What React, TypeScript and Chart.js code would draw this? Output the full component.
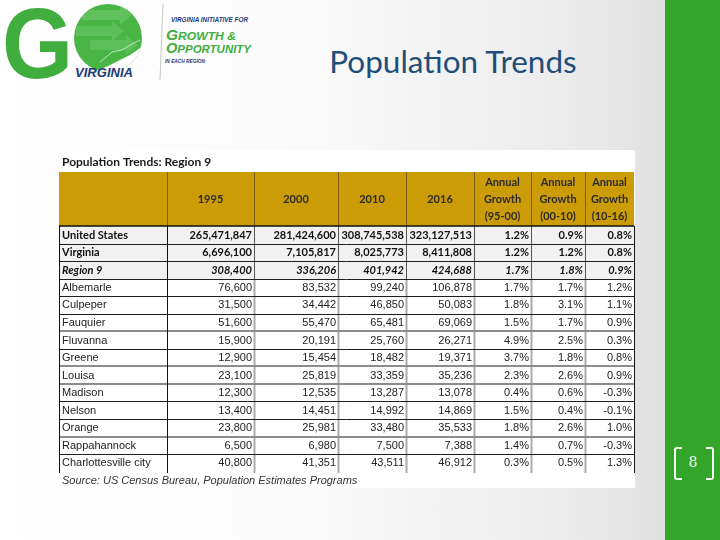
import React, { useEffect, useRef } from "react";
import { Chart, registerables } from "chart.js";

Chart.register(...registerables);

// ---------------- data ----------------
const slideTitle = "Population Trends";
const tableTitle = "Population Trends: Region 9";
const sourceNote = "Source: US Census Bureau, Population Estimates Programs";
const headerLabels: string[][] = [
  [""],
  ["1995"],
  ["2000"],
  ["2010"],
  ["2016"],
  ["Annual", "Growth", "(95-00)"],
  ["Annual", "Growth", "(00-10)"],
  ["Annual", "Growth", "(10-16)"],
];
const places = [
  "United States",
  "Virginia",
  "Region 9",
  "Albemarle",
  "Culpeper",
  "Fauquier",
  "Fluvanna",
  "Greene",
  "Louisa",
  "Madison",
  "Nelson",
  "Orange",
  "Rappahannock",
  "Charlottesville city",
];
const pop1995 = [265471847, 6696100, 308400, 76600, 31500, 51600, 15900, 12900, 23100, 12300, 13400, 23800, 6500, 40800];
const pop2000 = [281424600, 7105817, 336206, 83532, 34442, 55470, 20191, 15454, 25819, 12535, 14451, 25981, 6980, 41351];
const pop2010 = [308745538, 8025773, 401942, 99240, 46850, 65481, 25760, 18482, 33359, 13287, 14992, 33480, 7500, 43511];
const pop2016 = [323127513, 8411808, 424688, 106878, 50083, 69069, 26271, 19371, 35236, 13078, 14869, 35533, 7388, 46912];
const growth9500 = [1.2, 1.2, 1.7, 1.7, 1.8, 1.5, 4.9, 3.7, 2.3, 0.4, 1.5, 1.8, 1.4, 0.3];
const growth0010 = [0.9, 1.2, 1.8, 1.7, 3.1, 1.7, 2.5, 1.8, 2.6, 0.6, 0.4, 2.6, 0.7, 0.5];
const growth1016 = [0.8, 0.8, 0.9, 1.2, 1.1, 0.9, 0.3, 0.8, 0.9, -0.3, -0.1, 1.0, -0.3, 1.3];

// ---------------- layout / style ----------------
const COL_EDGES = [4, 112, 199, 283, 351, 419, 476, 530, 579];
const Y_MIN = -4.33;
const Y_MAX = 14.93;
const HEADER_TOP = -3.08;
const TITLE_Y = -3.62;
const SOURCE_Y = 14.55;
const GOLD = "#cc9c06";
// style of the line under each row (k = row index): "b" dark thin, "g" gray thick
const ROW_LINES = ["b", "b", "b", "b", "b", "g", "b", "g", "g", "b", "b", "g", "b"];

const fmtPop = (v: number) => v.toLocaleString("en-US");
const fmtPct = (v: number) => v.toFixed(1) + "%";

const numericCols: string[][] = [
  pop1995.map(fmtPop),
  pop2000.map(fmtPop),
  pop2010.map(fmtPop),
  pop2016.map(fmtPop),
  growth9500.map(fmtPct),
  growth0010.map(fmtPct),
  growth1016.map(fmtPct),
];
const cellText: string[][] = [places, ...numericCols];

function rowFont(i: number) {
  if (i === 2) return "italic bold 11px Lato";
  if (i < 2) return "bold 11px Lato";
  return "11px 'Liberation Sans'";
}

const tablePlugin = {
  id: "tableGrid",
  beforeDatasetsDraw(chart: any) {
    const { ctx } = chart;
    const xs = chart.scales.x;
    const ys = chart.scales.y;
    const X = (v: number) => Math.round(xs.getPixelForValue(v));
    const Y = (v: number) => Math.round(ys.getPixelForValue(v));
    const left = X(COL_EDGES[0]);
    const right = X(COL_EDGES[COL_EDGES.length - 1]);
    const n = places.length;
    ctx.save();
    ctx.fillStyle = "#ffffff";
    ctx.fillRect(0, 0, chart.width, chart.height);
    // header band
    ctx.fillStyle = GOLD;
    ctx.fillRect(left, Y(HEADER_TOP), right - left, Y(0) - Y(HEADER_TOP));
    // shaded top rows
    ctx.fillStyle = "#f1f1f1";
    ctx.fillRect(left, Y(0), right - left, Y(3) - Y(0));
    // header dividers
    ctx.strokeStyle = "#7a5f10";
    ctx.lineWidth = 1;
    for (let c = 1; c < COL_EDGES.length - 1; c++) {
      const x = X(COL_EDGES[c]) + 0.5;
      ctx.beginPath();
      ctx.moveTo(x, Y(HEADER_TOP));
      ctx.lineTo(x, Y(0));
      ctx.stroke();
    }
    // body vertical dividers between numeric columns
    for (let c = 2; c < COL_EDGES.length - 1; c++) {
      const x = X(COL_EDGES[c]) + 0.5;
      ctx.strokeStyle = "#555";
      ctx.lineWidth = 1;
      ctx.beginPath();
      ctx.moveTo(x, Y(0));
      ctx.lineTo(x, Y(3));
      ctx.stroke();
      ctx.strokeStyle = "#aaaaaa";
      ctx.lineWidth = 2;
      ctx.beginPath();
      ctx.moveTo(x, Y(3));
      ctx.lineTo(x, Y(n) + 1);
      ctx.stroke();
    }
    // row lines
    for (let k = 0; k < ROW_LINES.length; k++) {
      const y = Y(k + 1);
      if (ROW_LINES[k] === "g") {
        ctx.strokeStyle = "#8c8c8c";
        ctx.lineWidth = 2;
        ctx.beginPath();
        ctx.moveTo(left, y);
        ctx.lineTo(right, y);
        ctx.stroke();
      } else {
        ctx.strokeStyle = "#1e1e1e";
        ctx.lineWidth = 1;
        ctx.beginPath();
        ctx.moveTo(left, y + 0.5);
        ctx.lineTo(right, y + 0.5);
        ctx.stroke();
      }
    }
    // header bottom
    ctx.strokeStyle = "#111";
    ctx.lineWidth = 1.5;
    ctx.beginPath();
    ctx.moveTo(left, Y(0));
    ctx.lineTo(right, Y(0));
    ctx.stroke();
    // outer + first column lines
    ctx.strokeStyle = "#111";
    ctx.lineWidth = 1;
    [COL_EDGES[0], COL_EDGES[1]].forEach((e) => {
      const x = X(e) + 0.5;
      ctx.beginPath();
      ctx.moveTo(x, Y(0));
      ctx.lineTo(x, Y(n) + 1);
      ctx.stroke();
    });
    ctx.beginPath();
    ctx.moveTo(right + 0.5, Y(0));
    ctx.lineTo(right + 0.5, Y(n) + 1);
    ctx.stroke();
    ctx.restore();
  },
  afterDatasetsDraw(chart: any) {
    const { ctx } = chart;
    const xs = chart.scales.x;
    const ys = chart.scales.y;
    const X = (v: number) => xs.getPixelForValue(v);
    const Y = (v: number) => ys.getPixelForValue(v);
    ctx.save();
    ctx.textBaseline = "middle";
    // table title
    ctx.fillStyle = "#1a1a1a";
    ctx.font = "bold 12px Lato";
    ctx.textAlign = "left";
    ctx.fillText(tableTitle, X(COL_EDGES[0] + 3), Y(TITLE_Y));
    // header labels
    ctx.font = "bold 11px Lato";
    ctx.fillStyle = "#2a2a2a";
    ctx.textAlign = "center";
    const hMid = (Y(HEADER_TOP) + Y(0)) / 2;
    headerLabels.forEach((lines, c) => {
      const cx = (X(COL_EDGES[c]) + X(COL_EDGES[c + 1])) / 2;
      lines.forEach((t, j) => {
        ctx.fillText(t, cx, hMid + (j - (lines.length - 1) / 2) * 17);
      });
    });
    // cells from dataset elements
    chart.data.datasets.forEach((ds: any, d: number) => {
      const meta = chart.getDatasetMeta(d);
      const texts = cellText[d];
      ctx.textAlign = d === 0 ? "left" : "right";
      meta.data.forEach((el: any, i: number) => {
        ctx.font = rowFont(i);
        ctx.fillStyle = i < 3 ? "#111" : "#222";
        ctx.fillText(texts[i], el.x, el.y + 0.5);
      });
    });
    // source
    ctx.font = "italic 11px 'Liberation Sans'";
    ctx.fillStyle = "#333";
    ctx.textAlign = "left";
    ctx.fillText(sourceNote, X(COL_EDGES[0] + 3), Y(SOURCE_Y));
    ctx.restore();
  },
};

function PopulationTable() {
  const ref = useRef<HTMLCanvasElement | null>(null);
  useEffect(() => {
    if (!ref.current) return;
    const datasets = cellText.map((col, d) => ({
      type: "scatter" as const,
      label: d === 0 ? "Place" : headerLabels[d].join(" "),
      data: col.map((_, i) => ({
        x: d === 0 ? COL_EDGES[0] + 3 : COL_EDGES[d + 1] - 2,
        y: i + 0.5,
      })),
      pointRadius: 0,
      pointHoverRadius: 0,
    }));
    const chart = new Chart(ref.current, {
      type: "scatter",
      data: { datasets },
      options: {
        animation: false,
        responsive: false,
        maintainAspectRatio: false,
        events: [],
        layout: { padding: 0 },
        plugins: { legend: { display: false }, tooltip: { enabled: false } },
        scales: {
          x: { type: "linear", min: 0, max: 580, display: false },
          y: { type: "linear", min: Y_MIN, max: Y_MAX, reverse: true, display: false },
        },
      },
      plugins: [tablePlugin],
    } as any);
    return () => chart.destroy();
  }, []);
  return (
    <canvas
      ref={ref}
      width={580}
      height={338}
      style={{ position: "absolute", left: 55, top: 150, width: 580, height: 338 }}
    />
  );
}

function Logo() {
  const navy = "#1d3a78";
  const green = "#3fae3f";
  return (
    <svg width={260} height={90} style={{ position: "absolute", left: 0, top: 0 }}>
      <defs>
        <clipPath id="oc">
          <circle cx={108} cy={38} r={34} />
        </clipPath>
      </defs>
      <text
        x={2}
        y={78}
        fontFamily="'Liberation Sans'"
        fontWeight="bold"
        fontSize={100}
        fill={green}
        textLength={71}
        lengthAdjust="spacingAndGlyphs"
      >
        G
      </text>
      <g clipPath="url(#oc)">
        <rect x={70} y={0} width={80} height={80} fill="#48b545" />
        <polygon points="82,10 120,10 120,5 132,15 120,25 120,20 82,20" fill="#8fd68a" opacity={0.35} />
        <polygon points="76,26 112,26 112,21 124,31 112,41 112,36 76,36" fill="#8fd68a" opacity={0.3} />
        <polygon points="90,40 126,40 126,35 138,45 126,55 126,50 90,50" fill="#8fd68a" opacity={0.3} />
        <polyline points="100,62 112,52 122,50 132,44 140,40" fill="none" stroke="#ffffff" strokeWidth={0.8} opacity={0.8} />
        <polygon points="148,40 140,48 130,55 120,60 108,66 98,70 72,70 72,90 148,90" fill="#ffffff" />
      </g>
      <text x={75} y={77} fontFamily="'Liberation Sans'" fontWeight="bold" fontStyle="italic" fontSize={12} fill={navy} textLength={58} lengthAdjust="spacingAndGlyphs">
        VIRGINIA
      </text>
      <line x1={163} y1={4} x2={160} y2={80} stroke="#c8c8c8" strokeWidth={1} />
      <text x={171} y={22} fontFamily="'Liberation Sans'" fontWeight="bold" fontStyle="italic" fontSize={6.5} fill={navy} textLength={77} lengthAdjust="spacingAndGlyphs">
        VIRGINIA INITIATIVE FOR
      </text>
      <text x={166} y={40} fontFamily="'Liberation Sans'" fontWeight="bold" fontStyle="italic" fill={green} textLength={70} lengthAdjust="spacingAndGlyphs">
        <tspan fontSize={14}>G</tspan>
        <tspan fontSize={11}>ROWTH &amp;</tspan>
      </text>
      <text x={166} y={53} fontFamily="'Liberation Sans'" fontWeight="bold" fontStyle="italic" fill={green} textLength={85} lengthAdjust="spacingAndGlyphs">
        <tspan fontSize={14}>O</tspan>
        <tspan fontSize={11}>PPORTUNITY</tspan>
      </text>
      <text x={165} y={63} fontFamily="'Liberation Sans'" fontWeight="bold" fontStyle="italic" fontSize={5} fill={navy} textLength={40} lengthAdjust="spacingAndGlyphs">
        IN EACH REGION
      </text>
    </svg>
  );
}

export default function App() {
  useEffect(() => {
    document.body.style.margin = "0";
  }, []);
  return (
    <div
      style={{
        position: "absolute",
        left: 0,
        top: 0,
        width: 720,
        height: 540,
        overflow: "hidden",
        background: "linear-gradient(to right, #ffffff 0%, #fbfbfb 40%, #ececec 78%, #e0e0e0 92%)",
      }}
    >
      <Logo />
      <div
        style={{
          position: "absolute",
          left: 300,
          top: 41,
          width: 306,
          textAlign: "center",
          fontFamily: "Lato, 'Open Sans', sans-serif",
          fontSize: 31.5,
          lineHeight: "40px",
          color: "#1f4e79",
        }}
      >
        {slideTitle}
      </div>
      <PopulationTable />
      <div style={{ position: "absolute", left: 665, top: 0, width: 55, height: 540, background: "#34a52b" }} />
      <div
        style={{
          position: "absolute",
          left: 674,
          top: 447,
          width: 6,
          height: 29,
          border: "2px solid #f2fbf0",
          borderRight: "none",
          borderRadius: "3px 0 0 3px",
        }}
      />
      <div
        style={{
          position: "absolute",
          left: 706,
          top: 447,
          width: 6,
          height: 29,
          border: "2px solid #f2fbf0",
          borderLeft: "none",
          borderRadius: "0 3px 3px 0",
        }}
      />
      <div
        style={{
          position: "absolute",
          left: 683,
          top: 451,
          width: 20,
          textAlign: "center",
          fontFamily: "'DejaVu Serif', serif",
          fontSize: 14,
          lineHeight: "22px",
          color: "#f2fbf0",
        }}
      >
        8
      </div>
    </div>
  );
}
